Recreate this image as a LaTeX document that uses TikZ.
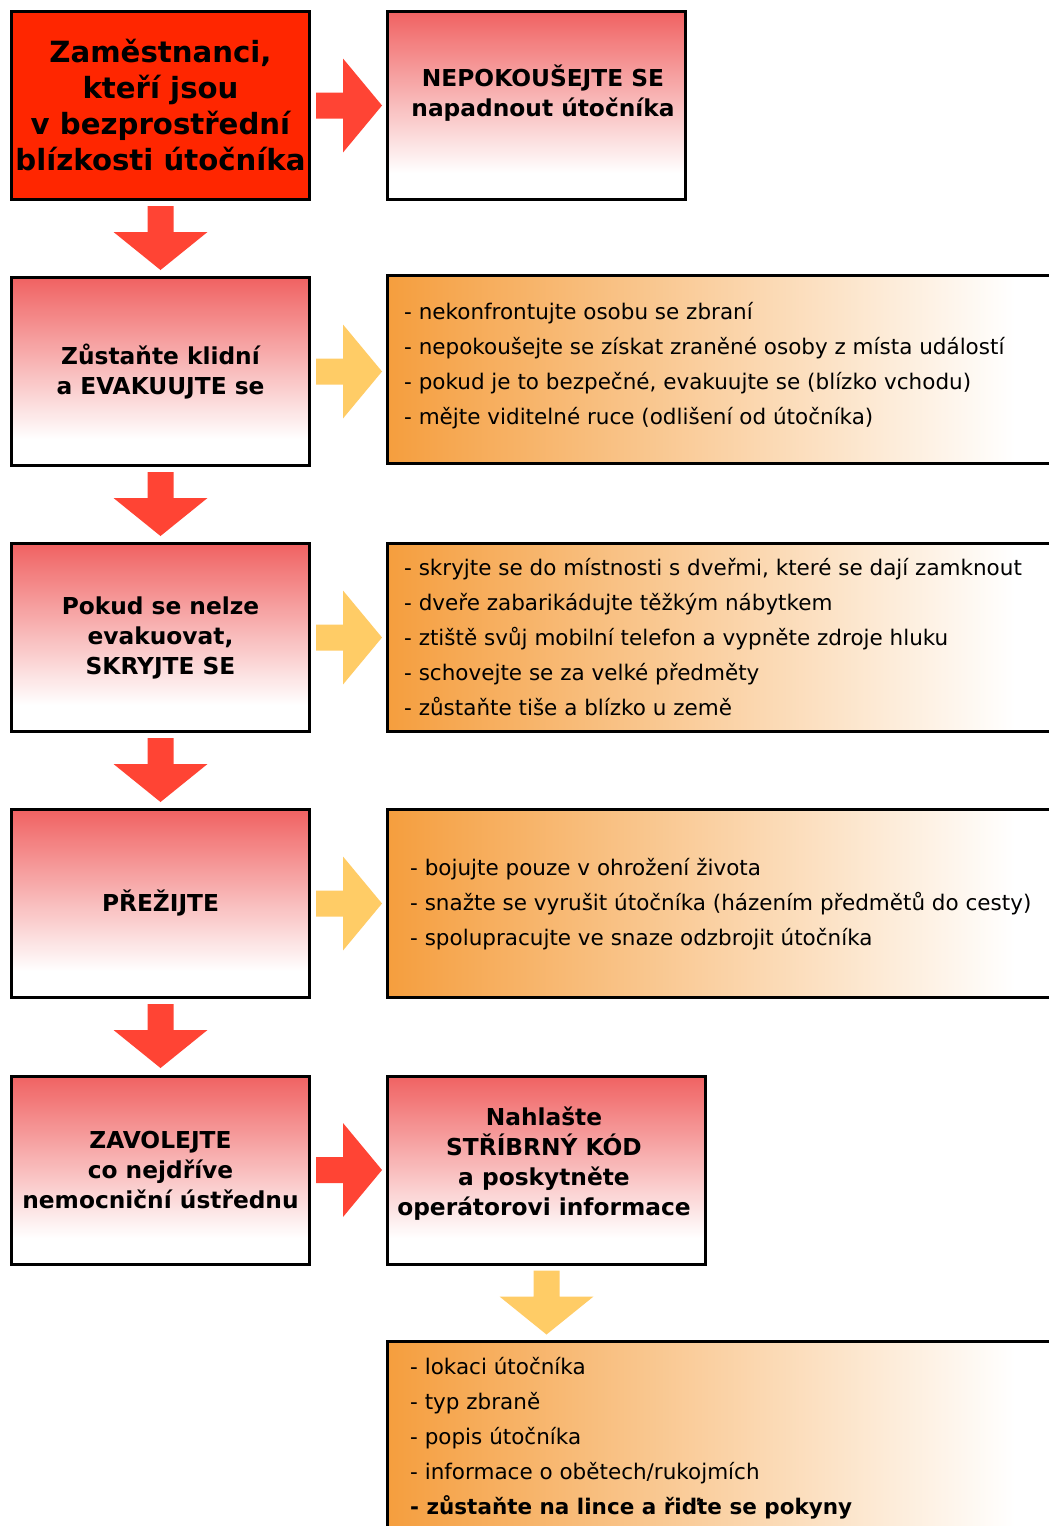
\documentclass[tikz,border=0pt]{standalone}
\usepackage{fontspec}
\setmainfont{DejaVu Sans}
\usetikzlibrary{calc}
\definecolor{boxred}{RGB}{255,38,0}
\definecolor{fadered}{RGB}{240,98,98}
\definecolor{fadeor}{RGB}{245,158,62}
\definecolor{arrred}{RGB}{255,68,52}
\definecolor{arryel}{RGB}{255,204,102}
\pgfdeclareverticalshading{redfade}{100bp}{color(0bp)=(white); color(32bp)=(white); color(75bp)=(fadered); color(100bp)=(fadered)}
\pgfdeclarehorizontalshading{orfade}{100bp}{color(0bp)=(fadeor); color(25bp)=(fadeor); color(71bp)=(white); color(100bp)=(white)}
\tikzset{
  boxbase/.style={draw=black, line width=3pt, minimum width=298pt, minimum height=188pt, inner sep=0pt, align=center},
  solidbox/.style={boxbase, fill=boxred, font=\bfseries\fontsize{29.2}{36}\selectfont},
  redbox/.style={boxbase, shade, shading=redfade, font=\bfseries\fontsize{23.3}{30}\selectfont},
  orbox/.style={boxbase, minimum width=682pt, shade, shading=orfade},
  titletext/.style={inner sep=0pt, align=center, font=\bfseries\fontsize{23.3}{30}\selectfont},
  listtext/.style={inner sep=0pt, align=left, anchor=west, font=\fontsize{21.5}{35}\selectfont},
  redarr/.style={fill=arrred},
  yelarr/.style={fill=arryel}
}
\begin{document}
\begin{tikzpicture}[x=1pt,y=1pt]
\useasboundingbox (0,0) rectangle (1049,-1526);
\clip (0,0) rectangle (1049,-1526);
\fill[white] (0,0) rectangle (1049,-1526);

% left column
\node[solidbox] (b1) at (160.5,-105.5) {Zaměstnanci,\\kteří jsou\\v bezprostřední\\blízkosti útočníka};
\node[redbox] (b2) at (160.5,-371.5) {Zůstaňte klidní\\a EVAKUUJTE se};
\node[redbox] (b3) at (160.5,-637.5) {Pokud se nelze\\evakuovat,\\SKRYJTE SE};
\node[redbox] (b4) at (160.5,-903.5) {\raisebox{4pt}{PŘEŽIJTE}};
\node[redbox] (b5) at (160.5,-1170) {ZAVOLEJTE\\co nejdříve\\nemocniční ústřednu};

% right column
\node[redbox] (n1) at (536.5,-105.5) {};
\node[titletext] (n1t) at (543,-93) {NEPOKOUŠEJTE SE\\napadnout útočníka};

\node[orbox] (r2) at (728.5,-369.5) {};
\node[listtext] (r2t) at (404,-365.5) {- nekonfrontujte osobu se zbraní\\- nepokoušejte se získat zraněné osoby z místa událostí\\- pokud je to bezpečné, evakuujte se (blízko vchodu)\\- mějte viditelné ruce (odlišení od útočníka)};

\node[orbox] (r3) at (728.5,-637) {};
\node[listtext] (r3t) at (404,-637) {- skryjte se do místnosti s dveřmi, které se dají zamknout\\- dveře zabarikádujte těžkým nábytkem\\- ztiště svůj mobilní telefon a vypněte zdroje hluku\\- schovejte se za velké předměty\\- zůstaňte tiše a blízko u země};

\node[orbox] (r4) at (728.5,-903) {};
\node[listtext] (r4t) at (410,-904) {- bojujte pouze v ohrožení života\\- snažte se vyrušit útočníka (házením předmětů do cesty)\\- spolupracujte ve snaze odzbrojit útočníka};

\node[redbox, minimum width=318pt] (n5) at (546.5,-1170) {};
\node[titletext] (n5t) at (544,-1164) {Nahlašte\\STŘÍBRNÝ KÓD\\a poskytněte\\operátorovi informace};

\node[orbox, minimum height=220pt] (r6) at (728.5,-1451.5) {};
\node[listtext] (r6t) at (410,-1438) {- lokaci útočníka\\- typ zbraně\\- popis útočníka\\- informace o obětech/rukojmích\\\textbf{- zůstaňte na lince a řiďte se pokyny}};

% right arrows
\fill[redarr] (b1.east) ++(5,13) -- ++(27,0) -- ++(0,34) -- ++(39,-47) -- ++(-39,-47) -- ++(0,34) -- ++(-27,0) -- cycle;
\fill[yelarr] (b2.east) ++(5,13) -- ++(27,0) -- ++(0,34) -- ++(39,-47) -- ++(-39,-47) -- ++(0,34) -- ++(-27,0) -- cycle;
\fill[yelarr] (b3.east) ++(5,13) -- ++(27,0) -- ++(0,34) -- ++(39,-47) -- ++(-39,-47) -- ++(0,34) -- ++(-27,0) -- cycle;
\fill[yelarr] (b4.east) ++(5,13) -- ++(27,0) -- ++(0,34) -- ++(39,-47) -- ++(-39,-47) -- ++(0,34) -- ++(-27,0) -- cycle;
\fill[redarr] (b5.east) ++(5,13) -- ++(27,0) -- ++(0,34) -- ++(39,-47) -- ++(-39,-47) -- ++(0,34) -- ++(-27,0) -- cycle;

% down arrows
\fill[redarr] (b1.south) ++(-13,-5) -- ++(0,-26) -- ++(-34,0) -- ++(47,-38) -- ++(47,38) -- ++(-34,0) -- ++(0,26) -- cycle;
\fill[redarr] (b2.south) ++(-13,-5) -- ++(0,-26) -- ++(-34,0) -- ++(47,-38) -- ++(47,38) -- ++(-34,0) -- ++(0,26) -- cycle;
\fill[redarr] (b3.south) ++(-13,-5) -- ++(0,-26) -- ++(-34,0) -- ++(47,-38) -- ++(47,38) -- ++(-34,0) -- ++(0,26) -- cycle;
\fill[redarr] (b4.south) ++(-13,-5) -- ++(0,-26) -- ++(-34,0) -- ++(47,-38) -- ++(47,38) -- ++(-34,0) -- ++(0,26) -- cycle;
\fill[yelarr] (n5.south) ++(-13,-5) -- ++(0,-26) -- ++(-34,0) -- ++(47,-38) -- ++(47,38) -- ++(-34,0) -- ++(0,26) -- cycle;
\end{tikzpicture}
\end{document}
